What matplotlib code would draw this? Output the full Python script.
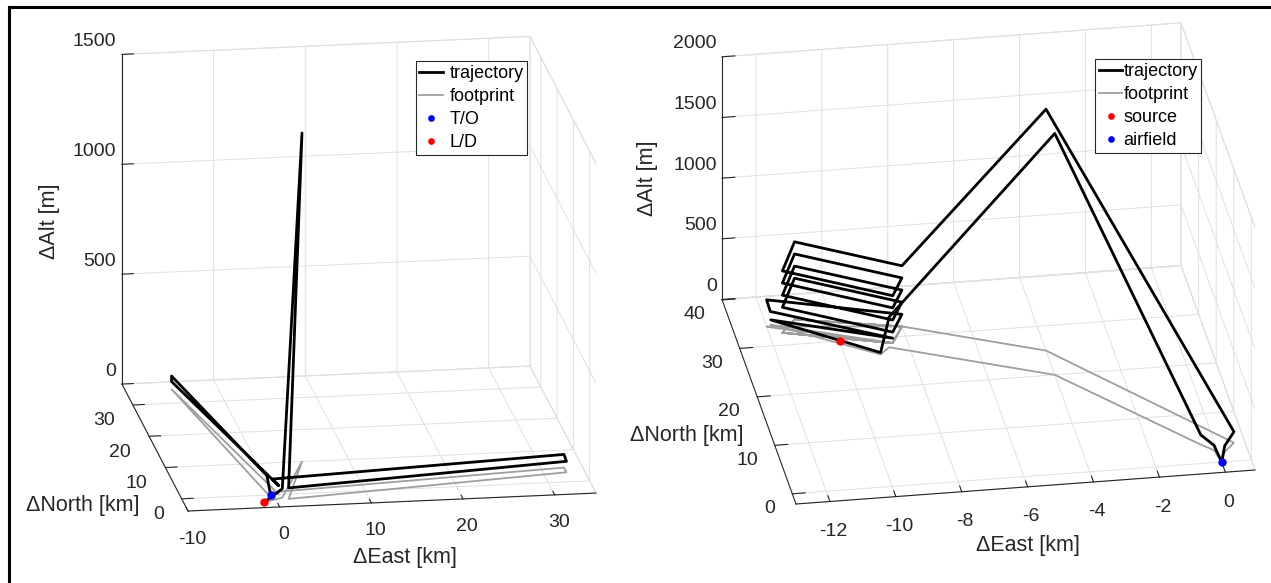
import numpy as np
import matplotlib
matplotlib.use("Agg")
import matplotlib.pyplot as plt
from matplotlib.lines import Line2D

plt.rcParams['font.family'] = ['Liberation Sans', 'DejaVu Sans']
plt.rcParams['axes.unicode_minus'] = False

W, H = 1271, 583
DARK = (0.15, 0.15, 0.15)

# ---- left panel: flight from / back to the field ----
east_1 = [-0.3, -0.6, -5.0, -5.0, 0.6, 0.0, 32.5, 32.5, 1.4, 4.9, 0.8, -1.4]
north_1 = [0.0, 0.6, 34.4, 34.4, 0.0, 0.8, 4.5, 3.0, -1.5, 10.0, -1.0, -2.2]
alt_1 = [0, 80, 60, 35, 40, 60, 60, 50, 50, 1495, 40, 0]
takeoff_1 = [-0.3, 0.0, 0]
landing_1 = [-1.4, -2.2, 0]

# ---- right panel: survey pattern over the source ----
east_2 = [0.0, 0.2, 0.57, -4.0,
          -8.0, -11.1, -11.6, -8.45,
          -8.0, -11.1, -11.6, -8.45,
          -8.0, -11.1, -11.6, -8.45,
          -8.0, -11.1, -11.6, -8.45,
          -8.0, -12.0, -11.9, -8.45,
          -11.86, -8.93, -8.6, -4.0, -0.43, -0.1, 0.0]
north_2 = [0.0, 2.0, 3.7, 25.0,
           32.0, 35.0, 32.5, 28.8,
           32.0, 35.0, 32.5, 28.8,
           32.0, 35.0, 32.5, 28.8,
           32.0, 35.0, 32.5, 28.8,
           32.0, 34.0, 33.8, 28.8,
           34.3, 26.7, 28.0, 20.0, 3.8, 2.5, 0.0]
alt_2 = [0, 50, 90, 1990,
         500, 640, 510, 390,
         400, 540, 410, 290,
         300, 440, 310, 190,
         200, 340, 210, 90,
         100, 220, 130, 40,
         40, 15, 250, 1990, 80, 40, 0]
source_2 = [-10.0, 30.0, 0]
airfield_2 = [0.0, 0.0, 0]


def corner_px(ax, x, y, z):
    M = ax.get_proj()
    v = M @ np.array([x, y, z, 1.0])
    return ax.transData.transform((v[0] / v[3], v[1] / v[3]))


def fit_box(fig, ax, lims, fl, fr):
    # scale/move the square 3D axes so the front bottom edge sits where it should
    for _ in range(3):
        fig.canvas.draw()
        p0 = corner_px(ax, lims[0][0], lims[1][0], lims[2][0])
        p1 = corner_px(ax, lims[0][1], lims[1][0], lims[2][0])
        bb = ax.get_position()
        cx, cy = (bb.x0 + bb.x1) / 2 * W, (bb.y0 + bb.y1) / 2 * H
        s = bb.width * W
        t0 = np.array([fl[0], H - fl[1]])
        t1 = np.array([fr[0], H - fr[1]])
        k = (t1[0] - t0[0]) / (p1[0] - p0[0])
        s2 = s * k
        c2 = t0 - k * (p0 - np.array([cx, cy]))
        ax.set_position([(c2[0] - s2 / 2) / W, (c2[1] - s2 / 2) / H, s2 / W, s2 / H])
    fig.canvas.draw()


def style_3d(ax, lims, ticks, aspect, elev, azim):
    ax.set_proj_type('ortho')
    ax.view_init(elev=elev, azim=azim)
    ax.set_box_aspect(aspect)
    ax.set_xlim(lims[0])
    ax.set_ylim(lims[1])
    ax.set_zlim(lims[2])
    ax.set_xticks(ticks[0])
    ax.set_yticks(ticks[1])
    ax.set_zticks(ticks[2])
    ax.set_xticklabels([])
    ax.set_yticklabels([])
    ax.set_zticklabels([])
    for axis in (ax.xaxis, ax.yaxis, ax.zaxis):
        axis.set_pane_color((1, 1, 1, 1))
        axis.pane.set_edgecolor((0.86, 0.86, 0.86))
        axis.pane.set_linewidth(0.7)
        axis._axinfo['grid'].update(color=(0.88, 0.88, 0.88), linewidth=0.7)
        axis._axinfo['tick'].update(inward_factor=0.0, outward_factor=0.35)
        axis.line.set_color(DARK)
        axis.line.set_linewidth(0.8)
    ax.tick_params(colors=DARK)
    ax.set_xlabel('')
    ax.set_ylabel('')
    ax.set_zlabel('')


def tick_labels(fig, ax, lims, ticks, offs):
    # MATLAB-like placement of the tick labels next to the projected tick spots
    tk = dict(fontsize=14, color=DARK, va='center')
    for v in ticks[0]:
        px, py = corner_px(ax, v, lims[1][0], lims[2][0])
        fig.text((px + offs[0][0]) / W, (py - offs[0][1]) / H, '%g' % v, ha='center', **tk)
    for v in ticks[1]:
        px, py = corner_px(ax, lims[0][0], v, lims[2][0])
        fig.text((px + offs[1][0]) / W, (py - offs[1][1]) / H, '%g' % v, ha='right', **tk)
    for v in ticks[2]:
        px, py = corner_px(ax, lims[0][0], lims[1][1], v)
        fig.text((px + offs[2][0]) / W, (py - offs[2][1]) / H, '%g' % v, ha='right', **tk)


fig = plt.figure(figsize=(W / 100, H / 100), dpi=100)

# left panel
lims_1 = [(-10, 34.5), (-3.9, 36.7), (0, 1500)]
ticks_1 = ([-10, 0, 10, 20, 30], [0, 10, 20, 30], [0, 500, 1000, 1500])
ax1 = fig.add_axes([0.0, 0.0, 0.5, 1.0], projection='3d', computed_zorder=False)
style_3d(ax1, lims_1, ticks_1, (412, 441, 344), 16.9, -98.6)
ax1.plot(east_1, north_1, np.zeros(len(alt_1)), color=(0.62, 0.62, 0.62), lw=1.3,
         label='footprint', zorder=2)
ax1.plot(east_1, north_1, alt_1, color='black', lw=2.0, label='trajectory', zorder=3)
ax1.plot([takeoff_1[0]], [takeoff_1[1]], [takeoff_1[2]], 'o', color='blue', ms=6,
         mec='none', label='T/O', zorder=4)
ax1.plot([landing_1[0]], [landing_1[1]], [landing_1[2]], 'o', color='red', ms=6,
         mec='none', label='L/D', zorder=4)

# right panel
lims_2 = [(-13.03, 0.9), (-2.1, 40.1), (0, 2000)]
ticks_2 = ([-12, -10, -8, -6, -4, -2, 0], [0, 10, 20, 30, 40], [0, 500, 1000, 1500, 2000])
ax2 = fig.add_axes([0.5, 0.0, 0.5, 1.0], projection='3d', computed_zorder=False)
style_3d(ax2, lims_2, ticks_2, (465, 458, 272), 26.9, -99.3)
ax2.plot(east_2, north_2, np.zeros(len(alt_2)), color=(0.62, 0.62, 0.62), lw=1.3,
         label='footprint', zorder=2)
ax2.plot(east_2, north_2, alt_2, color='black', lw=2.0, label='trajectory', zorder=3)
ax2.plot([source_2[0]], [source_2[1]], [source_2[2]], 'o', color='red', ms=6,
         mec='none', label='source', zorder=4)
ax2.plot([airfield_2[0]], [airfield_2[1]], [airfield_2[2]], 'o', color='blue', ms=6,
         mec='none', label='airfield', zorder=4)

fit_box(fig, ax1, lims_1, (188, 511), (596, 493))
fit_box(fig, ax2, lims_2, (796, 504), (1255, 470))

tick_labels(fig, ax1, lims_1, ticks_1, [(4, 28), (-18, 16), (-6, -13)])
tick_labels(fig, ax2, lims_2, ticks_2, [(3, 30), (-17, 15), (-5, -13)])

# legends (trajectory first, as in the original)
for ax, x0, y0, pad in ((ax1, 415.5, 61, 0.35), (ax2, 1095, 59, 0.05)):
    h, l = ax.get_legend_handles_labels()
    order = [1, 0, 2, 3]
    leg = ax.legend([h[i] for i in order], [l[i] for i in order], loc='upper left',
                    bbox_to_anchor=(x0 / W, 1 - y0 / H), bbox_transform=fig.transFigure,
                    borderaxespad=0, fancybox=False, edgecolor=DARK,
                    framealpha=1, fontsize=13, handlelength=1.3, handletextpad=pad,
                    labelspacing=0.34, borderpad=0.22, markerscale=0.8)
    leg.get_frame().set_linewidth(0.8)

# axis labels placed like the original
lab = dict(fontsize=15.5, color=DARK, ha='center', va='center')
fig.text(49 / W, 1 - 221 / H, '\u0394Alt [m]', rotation=90, **lab)
fig.text(83 / W, 1 - 505 / H, '\u0394North [km]', **lab)
fig.text(405 / W, 1 - 558 / H, '\u0394East [km]', **lab)
fig.text(647 / W, 1 - 178 / H, '\u0394Alt [m]', rotation=90, **lab)
fig.text(687 / W, 1 - 435 / H, '\u0394North [km]', **lab)
fig.text(1028 / W, 1 - 546 / H, '\u0394East [km]', **lab)

# frame line around the figure (top and left visible in the original)
fig.add_artist(Line2D([9 / W, 9 / W], [0, 1 - 7 / H], color='black', lw=2.2,
                      transform=fig.transFigure))
fig.add_artist(Line2D([9 / W, 1], [1 - 7 / H, 1 - 7 / H], color='black', lw=2.2,
                      transform=fig.transFigure))

fig.savefig('out.png', dpi=100)
